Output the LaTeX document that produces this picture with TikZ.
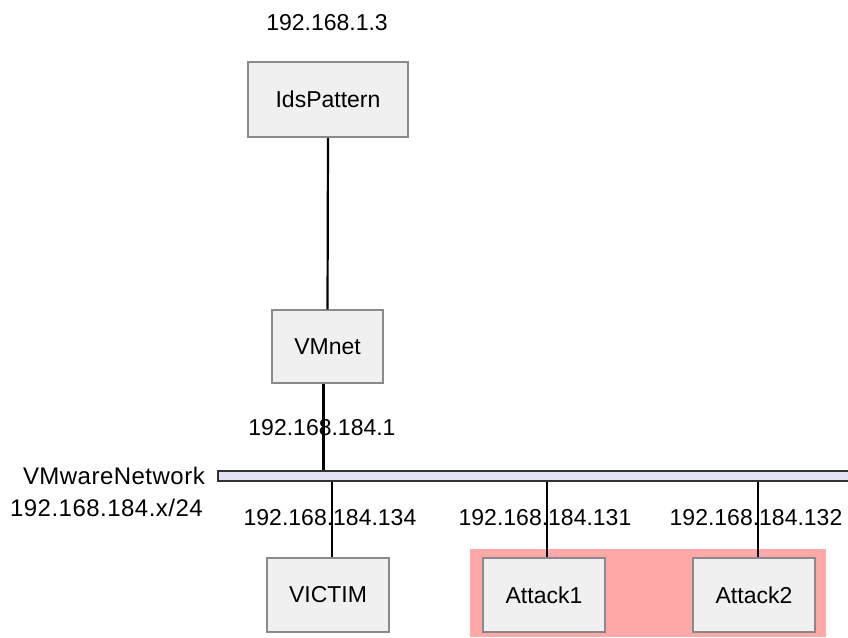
\documentclass[tikz,border=0pt]{standalone}
\usepackage{fontspec}
\setmainfont{Liberation Sans}
\definecolor{boxgray}{HTML}{8A8A8A}
\definecolor{boxfill}{HTML}{F0F0F0}
\definecolor{busfill}{HTML}{E2E2F2}
\definecolor{zonepink}{HTML}{FFA8A8}
\begin{document}
\begin{tikzpicture}[x=1pt, y=-1pt,
    every node/.style={font=\fontsize{23}{27}\selectfont},
    host/.style={draw=boxgray, fill=boxfill, line width=1.5pt, inner sep=0pt,
                 minimum width=122pt, minimum height=74pt},
    iplabel/.style={inner sep=0pt},
    netlabel/.style={inner sep=0pt, anchor=east, font=\fontsize{24}{28}\selectfont\addfontfeatures{LetterSpace=2}},
    link/.style={line width=2.2pt}]
      \useasboundingbox (0,0) rectangle (848,637);
      \def\busy{476};
      %
      \fill[zonepink] (470,549) rectangle (826,637);   % attack zone
      %
      \node[draw=black!80, fill=busfill, line width=1.6pt, inner sep=0pt,
            minimum width=640pt, minimum height=10.5pt, anchor=west] (bus) at (217,\busy) {};
      \node[netlabel] (netname) at (205,\busy) {VMwareNetwork};
      \node[netlabel] (netaddr) at (203,508) {192.168.184.x/24};
      %
      \node[host, minimum width=160pt, minimum height=75pt] (ids) at (328,99.5) {IdsPattern};
      \node[iplabel] (idsip) at (327,23) {192.168.1.3};
      %
      \node[host, minimum width=111pt, minimum height=73pt] (vmnet) at (327.5,346.5) {VMnet};
      \node[iplabel] (vmnetip) at (322,428) {192.168.184.1};
      %
      \node[host] (victim) at (328,595) {VICTIM};
      \node[host] (attack1) at (544,595) {Attack1};
      \node[host] (attack2) at (754,595) {Attack2};
      %
      \node[iplabel] (victimip) at (330,518) {192.168.184.134};
      \node[iplabel] (attack1ip) at (545,518) {192.168.184.131};
      \node[iplabel] (attack2ip) at (756,518) {192.168.184.132};
      %
      \draw[link] (ids.south) -- (vmnet.north);
      \draw[link] ([xshift=-4pt]vmnet.south) -- ([xshift=-4pt]vmnet.south |- bus.north);
      \draw[link] ([xshift=4pt]victim.north) -- ([xshift=4pt]victim.north |- bus.south);
      \draw[link] ([xshift=3pt]attack1.north) -- ([xshift=3pt]attack1.north |- bus.south);
      \draw[link] ([xshift=4pt]attack2.north) -- ([xshift=4pt]attack2.north |- bus.south);
      %
    \end{tikzpicture}
\end{document}
